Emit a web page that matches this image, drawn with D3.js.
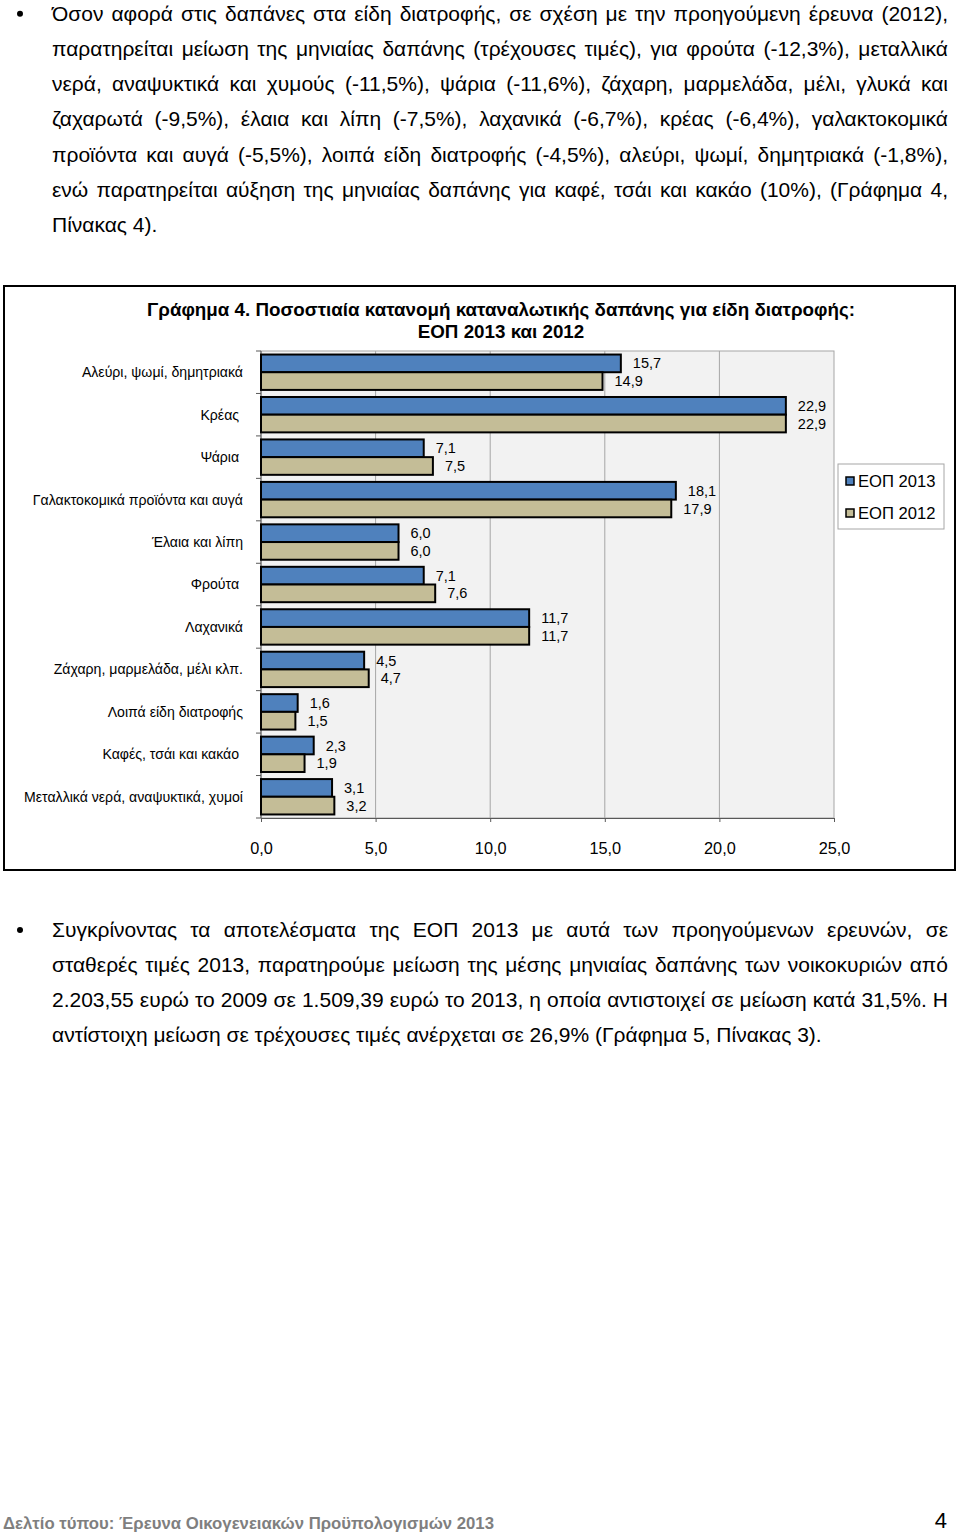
<!DOCTYPE html>
<html>
<head>
<meta charset="utf-8">
<script src="https://cdn.jsdelivr.net/npm/d3@7"></script>
<style>
  html, body { margin: 0; padding: 0; background: #fff; }
  svg { display: block; }
  text { font-family: "Liberation Sans", Arial, sans-serif; }
</style>
</head>
<body>
<svg id="page" width="960" height="1534"></svg>
<script>
// ---------------- DATA ----------------
const categories = [
  "Αλεύρι, ψωμί, δημητριακά",
  "Κρέας ",
  "Ψάρια ",
  "Γαλακτοκομικά προϊόντα και αυγά",
  "Έλαια και λίπη",
  "Φρούτα ",
  "Λαχανικά",
  "Ζάχαρη, μαρμελάδα, μέλι κλπ.",
  "Λοιπά είδη διατροφής",
  "Καφές, τσάι και κακάο ",
  "Μεταλλικά νερά, αναψυκτικά, χυμοί"
];
const values2013 = [15.7, 22.9, 7.1, 18.1, 6.0, 7.1, 11.7, 4.5, 1.6, 2.3, 3.1];
const values2012 = [14.9, 22.9, 7.5, 17.9, 6.0, 7.6, 11.7, 4.7, 1.5, 1.9, 3.2];
const seriesNames = ["ΕΟΠ 2013", "ΕΟΠ 2012"];
const xTicks = [0, 5, 10, 15, 20, 25];
const chartTitle = [
  "Γράφημα 4. Ποσοστιαία κατανομή καταναλωτικής δαπάνης για είδη διατροφής:",
  "ΕΟΠ 2013 και 2012"
];
const paragraph1 = [
  "Όσον αφορά στις δαπάνες στα είδη διατροφής, σε σχέση με την προηγούμενη έρευνα (2012),",
  "παρατηρείται μείωση της μηνιαίας δαπάνης (τρέχουσες τιμές), για φρούτα (-12,3%), μεταλλικά",
  "νερά, αναψυκτικά και χυμούς (-11,5%), ψάρια (-11,6%), ζάχαρη, μαρμελάδα, μέλι, γλυκά και",
  "ζαχαρωτά (-9,5%), έλαια και λίπη (-7,5%), λαχανικά (-6,7%), κρέας (-6,4%), γαλακτοκομικά",
  "προϊόντα και αυγά (-5,5%), λοιπά είδη διατροφής (-4,5%), αλεύρι, ψωμί, δημητριακά (-1,8%),",
  "ενώ παρατηρείται αύξηση της μηνιαίας δαπάνης για καφέ, τσάι και κακάο (10%), (Γράφημα 4,",
  "Πίνακας 4)."
];
const paragraph2 = [
  "Συγκρίνοντας τα αποτελέσματα της ΕΟΠ 2013 με αυτά των προηγούμενων ερευνών, σε",
  "σταθερές τιμές 2013, παρατηρούμε μείωση της μέσης μηνιαίας δαπάνης των νοικοκυριών από",
  "2.203,55 ευρώ το 2009 σε 1.509,39 ευρώ το 2013, η οποία αντιστοιχεί σε μείωση κατά 31,5%. Η",
  "αντίστοιχη μείωση σε τρέχουσες τιμές ανέρχεται σε 26,9% (Γράφημα 5, Πίνακας 3)."
];
const footerText = "Δελτίο τύπου: Έρευνα Οικογενειακών Προϋπολογισμών 2013";
const pageNumber = "4";

// ---------------- DRAW ----------------
const svg = d3.select("#page");
const locale = d3.formatLocale({decimal: ",", thousands: ".", grouping: [3], currency: ["", "€"]});
const fmt = locale.format(".1f");

function paragraph(lines, x0, x1, y0, lh, size) {
  const g = svg.append("g");
  g.append("circle").attr("cx", 20).attr("cy", y0 - 7).attr("r", 3).attr("fill", "#000");
  lines.forEach((ln, i) => {
    const t = g.append("text")
      .attr("x", x0).attr("y", y0 + i * lh)
      .attr("font-size", size).attr("fill", "#000")
      .style("white-space", "pre")
      .text(ln);
    const w = t.node().getComputedTextLength();
    if (i < lines.length - 1) {
      const n = (ln.match(/ /g) || []).length;
      if (n > 0 && w < x1 - x0) t.style("word-spacing", ((x1 - x0 - w) / n) + "px");
      else if (w > x1 - x0) t.attr("textLength", x1 - x0).attr("lengthAdjust", "spacingAndGlyphs");
    }
  });
}
paragraph(paragraph1, 52, 948, 20.7, 35.2, 21);
paragraph(paragraph2, 52, 948, 937, 35, 21);

// chart frame
svg.append("rect").attr("x", 4).attr("y", 286).attr("width", 951).attr("height", 584)
  .attr("fill", "#fff").attr("stroke", "#000").attr("stroke-width", 2);

// title
svg.append("g").selectAll("text").data(chartTitle).join("text")
  .attr("x", 501).attr("y", (d, i) => 316 + i * 21.5)
  .attr("text-anchor", "middle").attr("font-size", 18.8).attr("font-weight", "bold")
  .text(d => d);

// scales
const plot = {left: 261, right: 834, top: 351, bottom: 818};
const x = d3.scaleLinear().domain([0, 25]).range([plot.left, plot.right]);
const y = d3.scaleBand().domain(categories).range([plot.top, plot.bottom]).padding(0);
const ySub = d3.scaleBand().domain(seriesNames).range([0, y.bandwidth()]).paddingInner(0).paddingOuter(0.2);
const colors = d3.scaleOrdinal().domain(seriesNames).range(["#4f81bd", "#c4bd97"]);

// plot background
svg.append("rect").attr("x", plot.left).attr("y", plot.top)
  .attr("width", plot.right - plot.left).attr("height", plot.bottom - plot.top)
  .attr("fill", "#f2f2f2").attr("stroke", "#a6a6a6").attr("stroke-width", 1);

// gridlines
svg.append("g").selectAll("line").data(xTicks.filter(v => v > 0 && v < 25)).join("line")
  .attr("x1", d => x(d)).attr("x2", d => x(d))
  .attr("y1", plot.top).attr("y2", plot.bottom)
  .attr("stroke", "#a6a6a6").attr("stroke-width", 1);

// x axis
const xAxis = svg.append("g").attr("transform", `translate(0,${plot.bottom})`)
  .call(d3.axisBottom(x).tickValues(xTicks).tickFormat(fmt).tickSize(4).tickSizeOuter(0));
xAxis.select(".domain").attr("stroke", "#595959");
xAxis.selectAll(".tick line").attr("stroke", "#595959");
xAxis.selectAll(".tick text").attr("font-size", 16.3).attr("font-family", "Liberation Sans, Arial, sans-serif")
  .attr("y", 36).attr("dy", 0).attr("fill", "#000");

// y axis line + ticks at band boundaries
const yG = svg.append("g");
yG.append("line").attr("x1", plot.left).attr("x2", plot.left).attr("y1", plot.top).attr("y2", plot.bottom)
  .attr("stroke", "#595959");
const bounds = categories.map(c => y(c)).concat([y(categories[categories.length - 1]) + y.bandwidth()]);
yG.selectAll("line.t").data(bounds).join("line").attr("class", "t")
  .attr("x1", plot.left - 5).attr("x2", plot.left).attr("y1", d => d).attr("y2", d => d)
  .attr("stroke", "#595959");

// category labels
svg.append("g").selectAll("text").data(categories).join("text")
  .attr("x", 243).attr("y", d => y(d) + y.bandwidth() / 2)
  .attr("dy", "0.35em").attr("text-anchor", "end").attr("font-size", 14.1)
  .style("white-space", "pre")
  .text(d => d);

// bars
const rows = [];
categories.forEach((c, i) => {
  rows.push({cat: c, series: seriesNames[0], value: values2013[i]});
  rows.push({cat: c, series: seriesNames[1], value: values2012[i]});
});
svg.append("g").selectAll("rect").data(rows).join("rect")
  .attr("x", x(0))
  .attr("y", d => y(d.cat) + ySub(d.series))
  .attr("width", d => x(d.value) - x(0))
  .attr("height", ySub.bandwidth())
  .attr("fill", d => colors(d.series))
  .attr("stroke", "#000").attr("stroke-width", 2);

// value labels
svg.append("g").selectAll("text").data(rows).join("text")
  .attr("x", d => x(d.value) + 12)
  .attr("y", d => y(d.cat) + ySub(d.series) + ySub.bandwidth() / 2)
  .attr("dy", "0.35em").attr("font-size", 14.5)
  .text(d => fmt(d.value));

// legend
const lg = svg.append("g");
lg.append("rect").attr("x", 838).attr("y", 464).attr("width", 106).attr("height", 65)
  .attr("fill", "#fff").attr("stroke", "#a6a6a6");
seriesNames.forEach((s, i) => {
  const cy = 481 + i * 32;
  lg.append("rect").attr("x", 846).attr("y", cy - 4).attr("width", 8).attr("height", 8)
    .attr("fill", colors(s)).attr("stroke", "#000").attr("stroke-width", 1.5);
  lg.append("text").attr("x", 858).attr("y", cy).attr("dy", "0.36em")
    .attr("font-size", 16.6).text(s);
});

// footer
svg.append("text").attr("x", 3).attr("y", 1529)
  .attr("font-family", "Liberation Sans Narrow, Arial Narrow, Liberation Sans, sans-serif")
  .attr("font-weight", "bold").attr("font-size", 17).attr("fill", "#7f7f7f")
  .attr("textLength", 491).attr("lengthAdjust", "spacingAndGlyphs")
  .text(footerText);
svg.append("text").attr("x", 947).attr("y", 1528).attr("text-anchor", "end")
  .attr("font-family", "Liberation Serif, serif").attr("font-size", 22).attr("fill", "#000")
  .text(pageNumber);
</script>
</body>
</html>
